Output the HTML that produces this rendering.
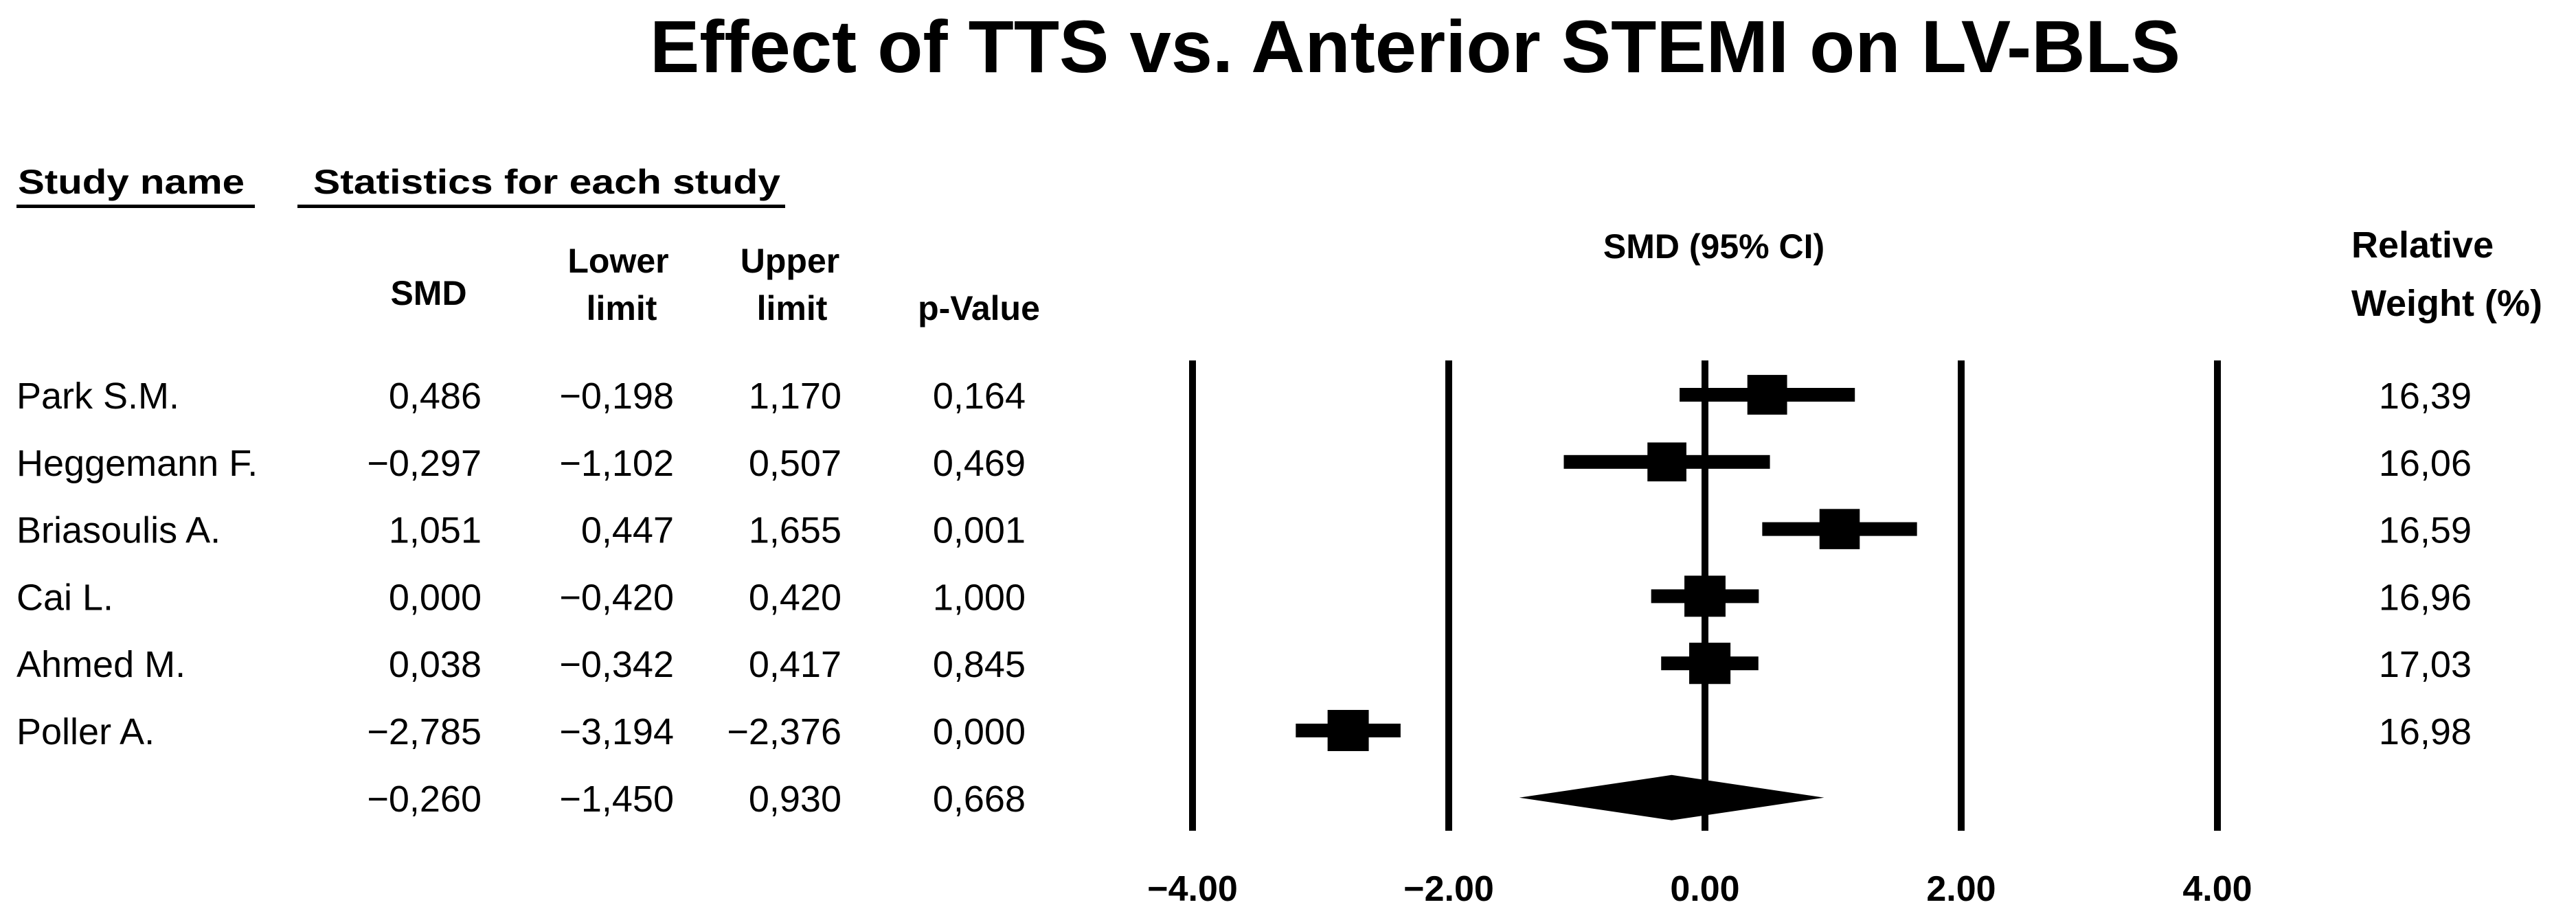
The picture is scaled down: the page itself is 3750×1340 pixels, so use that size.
<!DOCTYPE html>
<html><head><meta charset="utf-8"><style>
html,body{margin:0;padding:0;background:#fff}
svg{display:block}
text{font-family:"Liberation Sans",Arial,sans-serif;fill:#000}
.b{font-weight:bold}
</style></head><body>
<svg id="chart" width="3750" height="1340" viewBox="0 0 3750 1340" xmlns="http://www.w3.org/2000/svg">
<text class="b" x="946" y="105" font-size="108" textLength="2228" lengthAdjust="spacingAndGlyphs">Effect of TTS vs. Anterior STEMI on LV-BLS</text>
<text class="b" x="26" y="282" font-size="50" textLength="330" lengthAdjust="spacingAndGlyphs">Study name</text>
<rect x="24" y="298" width="347" height="5" fill="#000"/>
<text class="b" x="456" y="282" font-size="50" textLength="680" lengthAdjust="spacingAndGlyphs">Statistics for each study</text>
<rect x="433" y="298" width="710" height="5" fill="#000"/>
<g class="b" font-size="50" text-anchor="middle">
<text x="624" y="444">SMD</text>
<text x="900" y="397">Lower</text>
<text x="905" y="466">limit</text>
<text x="1150" y="397">Upper</text>
<text x="1153" y="466">limit</text>
<text x="1425" y="466">p-Value</text>
<text x="2495" y="376">SMD (95% CI)</text>
</g>
<text class="b" x="3423" y="375" font-size="54">Relative</text>
<text class="b" x="3423" y="460" font-size="54">Weight (%)</text>
<g id="plot"></g>
</svg>
<script>
const studies = ["Park S.M.", "Heggemann F.", "Briasoulis A.", "Cai L.", "Ahmed M.", "Poller A."];
const smd = [0.486, -0.297, 1.051, 0.000, 0.038, -2.785];
const lower = [-0.198, -1.102, 0.447, -0.420, -0.342, -3.194];
const upper = [1.170, 0.507, 1.655, 0.420, 0.417, -2.376];
const pValues = ["0,164", "0,469", "0,001", "1,000", "0,845", "0,000"];
const weights = [16.39, 16.06, 16.59, 16.96, 17.03, 16.98];
const pooled = [-0.260, -1.450, 0.930];
const pooledP = "0,668";
const ticks = [-4, -2, 0, 2, 4];
const tickLabels = ["−4.00", "−2.00", "0.00", "2.00", "4.00"];

const NS = "http://www.w3.org/2000/svg";
const g = document.getElementById("plot");
const xs = v => 2482 + v * 186.5;
const ys = i => 575 + i * 97.8;
const fmt = (v, d) => (v < 0 ? "−" : "") + Math.abs(v).toFixed(d).replace(".", ",");
function mk(tag, attrs, parent) {
  const e = document.createElementNS(NS, tag);
  for (const k in attrs) e.setAttribute(k, attrs[k]);
  (parent || g).appendChild(e);
  return e;
}
function txt(x, y, s, anchor, size, cls) {
  const t = mk("text", {x: x, y: y, "font-size": size, "text-anchor": anchor});
  if (cls) t.setAttribute("class", cls);
  t.textContent = s;
  return t;
}
// vertical reference lines
ticks.forEach((t, i) => {
  const l = mk("rect", {x: xs(t) - 5, y: 525, width: 10, height: 685, fill: "#000"});
  
  
  const tl = txt(xs(t), 1312, tickLabels[i], "middle", 52, "b");
  
  
});
studies.forEach((s, i) => {
  const y = ys(i);
  const ty = y + 20;
  const n = txt(24, ty, s, "start", 54);
  
  
  const a = txt(701, ty, fmt(smd[i], 3), "end", 54);
  
  
  const b = txt(981, ty, fmt(lower[i], 3), "end", 54);
  
  
  const c = txt(1225, ty, fmt(upper[i], 3), "end", 54);
  
  
  const d = txt(1493, ty, pValues[i], "end", 54);
  
  
  const w = txt(3598, ty, fmt(weights[i], 2), "end", 54);
  
  
  const ci = mk("rect", {x: xs(lower[i]), y: y - 10, width: xs(upper[i]) - xs(lower[i]), height: 20, fill: "#000"});
  
  
  const sz = 60 * weights[i] / 17;
  const bx = mk("rect", {x: xs(smd[i]) - sz / 2, y: y - sz / 2, width: sz, height: sz, fill: "#000"});
  
  
});
const py = ys(6);
const pvals = [fmt(pooled[0], 3), fmt(pooled[1], 3), fmt(pooled[2], 3), pooledP];
[701, 981, 1225, 1493].forEach((x, j) => {
  const t = txt(x, py + 20, pvals[j], "end", 54);
  
  
});
const dm = mk("polygon", {points: `${xs(pooled[1])},${py} ${xs(pooled[0])},${py - 33} ${xs(pooled[2])},${py} ${xs(pooled[0])},${py + 33}`, fill: "#000"});


</script>
</body></html>
